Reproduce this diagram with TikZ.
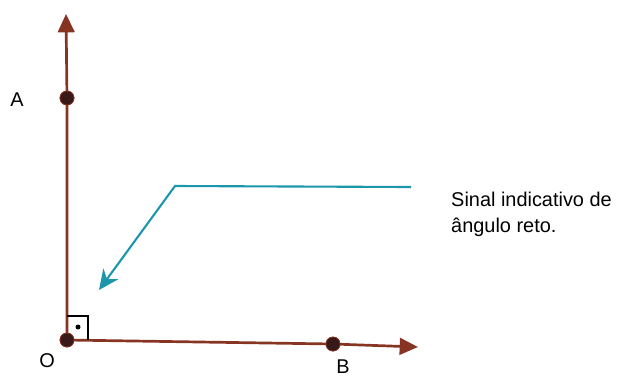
\documentclass[tikz,border=0pt]{standalone}
\usepackage{fontspec}
\setmainfont{Liberation Sans}
\usetikzlibrary{arrows.meta,positioning}
\definecolor{axisbrown}{RGB}{135,52,35}
\definecolor{pointdark}{RGB}{55,25,25}
\definecolor{signteal}{RGB}{28,150,170}

\begin{document}
\begin{tikzpicture}[
  x=0.03cm, y=-0.03cm,
  font=\fontsize{17}{22}\selectfont,
  axis/.style={draw=axisbrown, line width=2.3pt, -{Triangle[length=5.5mm, width=5mm]}},
  pt/.style={circle, fill=pointdark, draw=axisbrown, line width=0.6pt, inner sep=0pt, minimum size=4.2mm},
  lbl/.style={inner sep=0pt},
  pointer/.style={draw=signteal, line width=1.8pt, -{Stealth[length=6mm, width=5.5mm]}}
]
\useasboundingbox (0,0) rectangle (624,378);
\coordinate (ytip) at (66,14);
\coordinate (xtip) at (418,347);
\coordinate (bend) at (175,186);
\coordinate (start) at (411,187);
\coordinate (hit) at (99,290);
\node[pt] (O) at (67,340) {};
\node[pt] (A) at (67,98) {};
\node[pt] (B) at (333,344) {};
\draw[axis] (O.center) -- (A.center) -- (ytip);
\draw[axis] (O.center) -- (B.center) -- (xtip);
\node[pt] at (O) {};
\node[pt] at (A) {};
\node[pt] at (B) {};
\node[lbl] (labA) at (17,100) {A};
\node[lbl] (labO) at (47,361) {O};
\node[lbl] (labB) at (343,367) {B};
% right angle mark
\draw[line width=1.3pt] (67,316) -- (88,316) -- (88,340);
\fill (78,327) circle (2.5);
% pointer to the mark
\draw[pointer] (start) -- (bend) -- (hit);
\node[lbl, anchor=north west, align=left] (note) at (451,192) {Sinal indicativo de\\ângulo reto.};
\end{tikzpicture}
\end{document}
